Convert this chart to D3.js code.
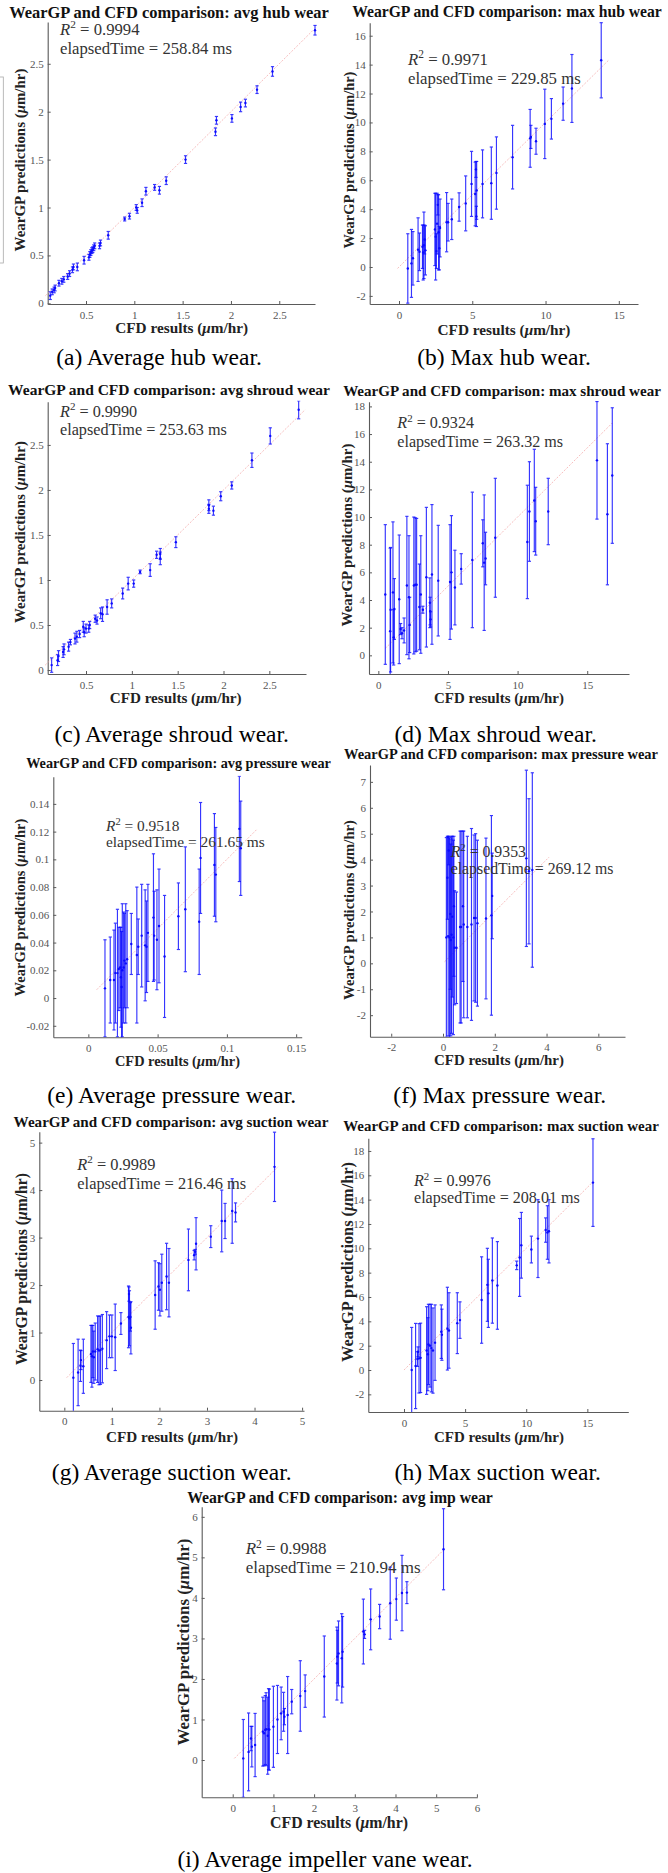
<!DOCTYPE html>
<html><head><meta charset="utf-8">
<script src="https://cdn.jsdelivr.net/npm/d3@7"></script>
<style>body{margin:0;background:#fff}svg{display:block}</style>
</head><body>
<svg id="fig" width="668" height="1873"></svg>
<script>
// ---------- DATA: [CFD result, WearGP prediction, error half-width] ----------
const avgHub = [[0.13,0.08,0.04],[0.15,0.12,0.03],[0.17,0.14,0.03],[0.18,0.16,0.03],[0.22,0.21,0.03],[0.25,0.23,0.03],[0.27,0.25,0.03],[0.31,0.28,0.03],[0.33,0.31,0.03],[0.36,0.35,0.03],[0.37,0.38,0.03],[0.41,0.38,0.04],[0.48,0.45,0.04],[0.53,0.48,0.03],[0.54,0.51,0.03],[0.55,0.53,0.03],[0.56,0.55,0.03],[0.57,0.56,0.03],[0.58,0.58,0.03],[0.59,0.6,0.03],[0.64,0.6,0.03],[0.65,0.63,0.03],[0.73,0.71,0.04],[0.9,0.88,0.02],[0.95,0.91,0.03],[1.02,1.0,0.03],[1.03,0.97,0.03],[1.08,1.05,0.04],[1.12,1.17,0.04],[1.21,1.21,0.03],[1.26,1.18,0.04],[1.33,1.28,0.04],[1.53,1.5,0.04],[1.84,1.79,0.04],[1.85,1.91,0.04],[2.01,1.93,0.04],[2.1,2.05,0.05],[2.15,2.09,0.04],[2.27,2.23,0.04],[2.43,2.42,0.05],[2.87,2.85,0.05]];
const maxHub = [[0.6,-0.1,2.4],[0.85,0.25,2.35],[0.95,0.6,1.85],[1.3,1.2,2.2],[1.4,1.05,1.3],[1.6,1.4,1.5],[1.65,1.0,1.9],[1.7,1.5,2.3],[1.8,1.15,1.7],[1.75,1.9,1.0],[2.45,2.6,2.5],[2.5,2.1,3.0],[2.55,1.1,1.2],[2.6,3.0,2.1],[2.65,4.3,0.7],[2.7,2.4,2.6],[2.75,1.3,1.5],[2.8,2.7,2.0],[3.25,3.1,2.05],[3.35,3.1,1.3],[3.6,3.3,1.4],[4.1,4.15,0.98],[4.55,4.4,1.9],[4.95,5.75,2.25],[5.2,5.05,2.2],[5.3,5.3,2.0],[5.25,6.75,0.55],[5.28,3.5,0.7],[5.7,5.75,2.35],[6.3,5.8,2.5],[6.65,6.5,2.5],[7.75,7.6,2.2],[8.95,8.9,2.0],[9.0,9.0,0.8],[9.35,8.7,0.9],[9.95,9.9,2.4],[10.4,10.25,1.4],[11.2,11.3,1.15],[11.8,12.35,2.35],[13.8,14.3,2.6]];
const avgShroud = [[0.125,0.055,0.08],[0.19,0.11,0.06],[0.2,0.155,0.06],[0.25,0.2,0.06],[0.26,0.23,0.06],[0.31,0.26,0.05],[0.33,0.31,0.03],[0.38,0.35,0.06],[0.4,0.37,0.06],[0.43,0.4,0.04],[0.47,0.48,0.06],[0.48,0.42,0.05],[0.5,0.46,0.05],[0.53,0.46,0.04],[0.54,0.5,0.04],[0.6,0.57,0.04],[0.62,0.55,0.04],[0.66,0.63,0.06],[0.68,0.62,0.08],[0.73,0.7,0.08],[0.78,0.74,0.05],[0.9,0.85,0.06],[0.96,0.96,0.07],[1.02,0.96,0.04],[1.09,1.09,0.02],[1.2,1.11,0.07],[1.27,1.28,0.04],[1.31,1.29,0.06],[1.31,1.24,0.07],[1.48,1.42,0.06],[1.84,1.83,0.06],[1.84,1.79,0.05],[1.89,1.77,0.05],[1.97,1.93,0.05],[2.09,2.05,0.04],[2.31,2.33,0.08],[2.51,2.6,0.09],[2.82,2.89,0.1]];
const maxShroud = [[0.5,4.4,5.05],[0.85,1.75,6.0],[0.88,3.3,4.5],[1.05,4.55,5.1],[1.1,1.3,2.0],[1.15,3.35,2.2],[1.5,4.05,4.65],[1.6,1.9,0.4],[1.7,1.6,0.4],[1.85,1.8,0.9],[2.05,5.05,5.0],[2.2,4.2,4.45],[2.25,2.2,2.0],[2.55,5.05,4.95],[2.65,5.1,4.85],[2.75,5.1,4.8],[2.95,3.5,3.1],[3.05,4.4,4.25],[3.2,3.3,0.25],[3.45,5.65,5.05],[3.7,3.8,1.8],[3.75,2.6,0.55],[3.72,3.2,1.0],[3.85,5.85,5.05],[4.3,5.4,4.0],[5.15,5.3,4.15],[5.25,6.0,4.1],[5.5,4.9,2.7],[5.95,6.25,1.1],[6.75,6.9,4.9],[7.5,8.1,1.7],[7.6,6.7,4.9],[7.7,7.0,1.9],[8.4,8.5,4.3],[10.7,8.2,4.1],[10.85,10.4,3.6],[11.2,11.2,3.7],[11.3,9.7,2.45],[12.2,10.4,2.4],[15.7,14.1,4.25],[16.45,10.2,5.1],[16.8,13.0,4.9]];
const avgPressure = [[0.012,0.007,0.035],[0.0158,0.013,0.031],[0.0185,0.013,0.036],[0.0195,0.018,0.036],[0.021,0.018,0.046],[0.022,0.021,0.03],[0.023,0.022,0.029],[0.0235,0.015,0.036],[0.024,0.008,0.04],[0.0245,0.02,0.048],[0.0255,0.022,0.04],[0.026,0.027,0.034],[0.027,0.025,0.043],[0.028,0.028,0.035],[0.031,0.039,0.022],[0.035,0.031,0.049],[0.036,0.037,0.02],[0.0385,0.045,0.037],[0.041,0.038,0.04],[0.042,0.037,0.033],[0.043,0.047,0.035],[0.047,0.058,0.046],[0.0475,0.045,0.032],[0.0495,0.042,0.036],[0.051,0.052,0.041],[0.055,0.03,0.044],[0.065,0.059,0.024],[0.07,0.064,0.045],[0.08,0.055,0.038],[0.081,0.101,0.04],[0.091,0.096,0.037],[0.092,0.089,0.034],[0.109,0.122,0.038],[0.11,0.108,0.034]];
const maxPressure = [[0.13,1.0,3.85],[0.17,3.3,1.6],[0.2,1.05,3.85],[0.22,4.35,0.55],[0.25,1.0,3.85],[0.28,1.9,2.9],[0.3,0.9,3.7],[0.33,1.1,3.8],[0.36,1.8,3.1],[0.4,1.0,3.75],[0.42,2.2,2.7],[0.45,0.6,2.2],[0.52,0.6,2.15],[0.66,1.4,3.7],[0.7,1.4,3.7],[0.77,2.2,2.9],[0.8,1.5,3.6],[0.94,1.4,3.5],[1.1,1.5,3.7],[1.2,1.75,3.2],[1.26,1.75,3.25],[1.33,1.55,3.2],[1.66,1.73,3.1],[1.87,1.85,3.85],[1.9,2.6,1.65],[3.22,4.05,3.4],[3.32,3.55,2.8],[3.45,3.6,3.75]];
const avgSuction = [[0.19,0.05,0.72],[0.29,0.16,0.7],[0.34,0.3,0.33],[0.35,0.42,0.2],[0.4,0.29,0.57],[0.56,0.55,0.6],[0.58,0.5,0.65],[0.6,0.6,0.55],[0.62,0.48,0.55],[0.65,0.6,0.6],[0.7,0.65,0.7],[0.73,0.62,0.72],[0.76,0.63,0.72],[0.8,0.66,0.72],[0.89,0.84,0.6],[0.95,0.92,0.45],[1.0,0.92,0.45],[1.07,0.9,0.7],[1.19,1.19,0.23],[1.35,1.33,0.65],[1.36,1.81,0.15],[1.37,1.3,0.58],[1.39,1.33,0.3],[1.4,1.1,0.55],[1.91,1.79,0.72],[1.98,1.97,0.5],[2.01,1.9,0.55],[2.05,2.05,0.6],[2.15,2.18,0.7],[2.2,2.05,0.72],[2.61,2.53,0.65],[2.73,2.63,0.1],[2.75,2.7,0.05],[2.77,2.87,0.55],[3.08,3.02,0.23],[3.31,3.35,0.65],[3.38,3.35,0.37],[3.53,3.56,0.68],[3.6,3.53,0.2],[4.42,4.49,0.73]];
const maxSuction = [[0.63,0.0,3.5],[0.95,0.33,3.5],[1.1,0.9,0.6],[1.15,1.5,0.4],[1.23,0.96,2.85],[1.36,1.0,2.85],[1.85,1.6,3.6],[1.95,1.3,3.0],[2.0,2.1,3.3],[2.13,2.0,3.4],[2.24,1.8,3.6],[2.37,1.6,3.5],[2.54,2.25,3.1],[3.05,3.15,2.2],[3.1,2.9,2.1],[3.55,3.4,3.4],[3.68,3.25,3.1],[4.36,3.85,2.5],[4.58,4.1,1.5],[6.35,5.75,3.55],[6.82,7.0,3.0],[6.9,6.3,2.8],[7.23,7.35,3.5],[7.64,6.95,3.6],[9.22,8.6,0.35],[9.46,9.25,3.2],[9.6,10.25,2.7],[10.42,9.9,1.1],[10.96,10.8,3.2],[11.59,11.5,1.0],[11.73,11.3,2.2],[11.86,11.4,2.6],[15.46,15.4,3.6]];
const avgImp = [[0.26,0.04,0.96],[0.39,0.2,0.96],[0.45,0.53,0.3],[0.47,0.33,0.5],[0.55,0.37,0.78],[0.74,0.7,0.85],[0.77,0.66,0.8],[0.8,0.74,0.85],[0.82,0.76,0.9],[0.86,0.6,0.95],[0.88,0.76,1.0],[0.9,0.75,1.0],[1.0,0.82,1.0],[1.1,1.0,0.84],[1.19,1.15,0.65],[1.25,1.19,0.48],[1.27,1.07,0.2],[1.35,1.11,0.95],[1.45,1.44,0.3],[1.66,1.58,0.87],[1.78,1.7,0.4],[2.25,2.06,1.0],[2.56,2.38,0.9],[2.57,2.55,0.65],[2.6,2.63,0.8],[2.68,2.51,1.1],[2.7,2.67,0.87],[3.21,3.17,0.8],[3.24,3.1,0.1],[3.39,3.47,0.75],[3.61,3.54,0.3],[3.87,3.87,0.89],[4.02,3.97,0.52],[4.16,4.12,0.93],[4.28,4.13,0.27],[5.18,5.2,1.0]];

// y = x reference line extents
const fitRanges = [[0.08,2.85],[-0.1,14.3],[0.055,2.89],[0.5,16.8],[0.006,0.122],[0.06,4.1],[0.05,4.49],[0,15.46],[0.04,5.2]];

// tick values
const xTicks = [[0.5,1,1.5,2,2.5],[0,5,10,15],[0.5,1,1.5,2,2.5],[0,5,10,15],[0,0.05,0.1,0.15],[-2,0,2,4,6],[0,1,2,3,4,5],[0,5,10,15],[0,1,2,3,4,5,6]];
const yTicks = [[0,0.5,1,1.5,2,2.5],[-2,0,2,4,6,8,10,12,14,16],[0,0.5,1,1.5,2,2.5],[0,2,4,6,8,10,12,14,16,18],[-0.02,0,0.02,0.04,0.06,0.08,0.1,0.12,0.14],[-2,-1,0,1,2,3,4,5,6,7],[0,1,2,3,4,5],[-2,0,2,4,6,8,10,12,14,16,18],[0,1,2,3,4,5,6]];

// text
const titleNames = ["avg hub wear","max hub wear","avg shroud wear","max shroud wear","avg pressure wear","max pressure wear","avg suction wear","max suction wear","avg imp wear"];
const r2Values = ["0.9994","0.9971","0.9990","0.9324","0.9518","0.9353","0.9989","0.9976","0.9988"];
const elapsedValues = ["258.84","229.85","253.63","263.32","261.65","269.12","216.46","208.01","210.94"];
const captions = ["(a) Average hub wear.","(b) Max hub wear.","(c) Average shroud wear.","(d) Max shroud wear.","(e) Average pressure wear.","(f) Max pressure wear.","(g) Average suction wear.","(h) Max suction wear.","(i) Average impeller vane wear."];

const series = [avgHub,maxHub,avgShroud,maxShroud,avgPressure,maxPressure,avgSuction,maxSuction,avgImp];

// ---------- LAYOUT (pixel positions) ----------
const layout = [
 {l:47.7,r:315,t:22,b:304,xd:[0.1035,2.87],yd:[-0.007,2.936],ti:[169,18,320],an:[60,35,54,172],yl:[20,160,183],xl:[181.7,333,133],cp:[159,365]},
 {l:369.7,r:638,t:22.7,b:304,xd:[-2.0,16.31],yd:[-2.56,16.9],ti:[507,17,310],an:[408,65,83.5,173],yl:[349,160,177],xl:[504,335,133],cp:[504,365]},
 {l:47.7,r:306,t:401.7,b:674,xd:[0.082,2.9],yd:[-0.044,2.98],ti:[169,395,322],an:[60,416.7,435,167],yl:[20,532,182],xl:[175.7,703,132],cp:[171.7,742]},
 {l:369,r:629,t:401.7,b:674,xd:[-0.67,18.0],yd:[-1.35,18.34],ti:[502,396,318],an:[397.3,428.3,446.7,166],yl:[346.7,535,183],xl:[499,703.3,130],cp:[495.7,742]},
 {l:53.3,r:301.7,t:776.7,b:1037.3,xd:[-0.0253,0.154],yd:[-0.0283,0.1596],ti:[178.5,768,305],an:[106,831,847.3,159],yl:[20,907.5,178],xl:[177.5,1066,125],cp:[171.7,1103.3]},
 {l:370,r:625,t:765,b:1036.7,xd:[-2.82,7.03],yd:[-2.83,7.65],ti:[501,759,314],an:[450.7,857.3,874.3,163],yl:[349,910,180],xl:[499,1065,130],cp:[499.7,1103]},
 {l:39.3,r:304,t:1131.7,b:1410.7,xd:[-0.526,5.04],yd:[-0.646,5.23],ti:[171,1127,315],an:[77.3,1170,1189.3,169],yl:[21.7,1269,192],xl:[172,1441.7,132],cp:[171.7,1480]},
 {l:368.3,r:628.3,t:1138.3,b:1412,xd:[-2.92,18.35],yd:[-3.45,19.04],ti:[501,1130.7,316],an:[414,1186,1203.3,166],yl:[347.3,1262,200],xl:[499,1441.7,130],cp:[497.7,1480]},
 {l:201.7,r:477.3,t:1506.7,b:1797.3,xd:[-0.762,6.01],yd:[-0.92,6.25],ti:[340,1503,306],an:[245.7,1554.3,1572.7,175],yl:[183.3,1642,207],xl:[339,1827.7,138],cp:[325,1866.7]}
];

const FONT = '"Liberation Serif","Times New Roman",Times,serif';
const AX = '#5a5a5a', BLUE = '#0a0aff';
const svg = d3.select('#fig');
const defs = svg.append('defs');

function fitWidth(t, w){
  const len = t.node().getComputedTextLength();
  const fs = parseFloat(t.attr('font-size'));
  const nf = fs * w / len;
  t.attr('font-size', nf);
  return nf;
}

// faint box artifact at the left edge of panel (a)
svg.append('rect').attr('x',-1).attr('y',77).attr('width',4.3).attr('height',186)
  .attr('fill','none').attr('stroke','#a8a8a8').attr('stroke-width',0.8);

series.forEach((data, i) => {
  const L = layout[i];
  const x = d3.scaleLinear().domain(L.xd).range([L.l, L.r]);
  const y = d3.scaleLinear().domain(L.yd).range([L.b, L.t]);
  const g = svg.append('g');

  const cid = 'clip' + i;
  defs.append('clipPath').attr('id', cid).append('rect')
    .attr('x', L.l - 4).attr('y', L.t - 1).attr('width', L.r - L.l + 8).attr('height', L.b - L.t + 1);

  // axes
  const ya = d3.axisLeft(y).tickValues(yTicks[i]).tickSizeInner(-3).tickSizeOuter(0).tickPadding(4).tickFormat(d => String(d));
  const xa = d3.axisBottom(x).tickValues(xTicks[i]).tickSizeInner(-3).tickSizeOuter(0).tickPadding(7).tickFormat(d => String(d));
  const gy = g.append('g').attr('transform', `translate(${L.l},0)`).call(ya);
  const gx = g.append('g').attr('transform', `translate(0,${L.b})`).call(xa);
  [gx, gy].forEach(a => {
    a.attr('font-family', FONT).attr('font-size', 11);
    a.select('.domain').attr('stroke', AX).attr('stroke-width', 1.1);
    a.selectAll('.tick line').attr('stroke', AX);
    a.selectAll('.tick text').attr('fill', '#555');
  });

  const pg = g.append('g').attr('clip-path', `url(#${cid})`);
  // reference line y = x
  const fr = fitRanges[i];
  pg.append('line').attr('x1', x(fr[0])).attr('y1', y(fr[0])).attr('x2', x(fr[1])).attr('y2', y(fr[1]))
    .attr('stroke', '#f29a9a').attr('stroke-width', 0.8).attr('stroke-dasharray', '2,1.5').attr('opacity', 0.8);

  // error bars
  const eb = pg.selectAll('g.eb').data(data).enter().append('g')
    .attr('stroke', BLUE).attr('stroke-width', 1.15).attr('opacity', 0.82);
  eb.append('line').attr('x1', d => x(d[0])).attr('x2', d => x(d[0]))
    .attr('y1', d => y(d[1] - d[2])).attr('y2', d => y(d[1] + d[2]));
  eb.append('line').attr('x1', d => x(d[0]) - 1.6).attr('x2', d => x(d[0]) + 1.6)
    .attr('y1', d => y(d[1] + d[2])).attr('y2', d => y(d[1] + d[2]));
  eb.append('line').attr('x1', d => x(d[0]) - 1.6).attr('x2', d => x(d[0]) + 1.6)
    .attr('y1', d => y(d[1] - d[2])).attr('y2', d => y(d[1] - d[2]));
  pg.selectAll('circle').data(data).enter().append('circle')
    .attr('cx', d => x(d[0])).attr('cy', d => y(d[1])).attr('r', 1.2).attr('fill', BLUE);

  // title
  const ti = g.append('text').attr('x', L.ti[0]).attr('y', L.ti[1]).attr('text-anchor', 'middle')
    .attr('font-family', FONT).attr('font-weight', 'bold').attr('font-size', 15).attr('fill', '#111')
    .text('WearGP and CFD comparison: ' + titleNames[i]);
  fitWidth(ti, L.ti[2]);

  // annotation
  const e2 = g.append('text').attr('x', L.an[0]).attr('y', L.an[2]).attr('font-family', FONT)
    .attr('font-size', 16).attr('fill', '#333').text('elapsedTime = ' + elapsedValues[i] + ' ms');
  const af = fitWidth(e2, L.an[3]);
  const r2 = g.append('text').attr('x', L.an[0]).attr('y', L.an[1]).attr('font-family', FONT)
    .attr('font-size', af).attr('fill', '#333');
  r2.append('tspan').attr('font-style', 'italic').text('R');
  r2.append('tspan').attr('font-size', af * 0.68).attr('dy', -af * 0.4).text('2');
  r2.append('tspan').attr('dy', af * 0.4).text(' = ' + r2Values[i]);

  // y label
  const yl = g.append('text').attr('transform', `translate(${L.yl[0]},${L.yl[1]}) rotate(-90)`)
    .attr('text-anchor', 'middle').attr('dy', '0.35em').attr('font-family', FONT).attr('font-weight', 'bold')
    .attr('font-size', 15).attr('fill', '#222');
  yl.append('tspan').text('WearGP predictions (');
  yl.append('tspan').attr('font-style', 'italic').text('\u03bc');
  yl.append('tspan').text('m/hr)');
  fitWidth(yl, L.yl[2]);

  // x label
  const xl = g.append('text').attr('x', L.xl[0]).attr('y', L.xl[1]).attr('text-anchor', 'middle')
    .attr('font-family', FONT).attr('font-weight', 'bold').attr('font-size', 15).attr('fill', '#222');
  xl.append('tspan').text('CFD results (');
  xl.append('tspan').attr('font-style', 'italic').text('\u03bc');
  xl.append('tspan').text('m/hr)');
  fitWidth(xl, L.xl[2]);

  // caption
  svg.append('text').attr('x', L.cp[0]).attr('y', L.cp[1]).attr('text-anchor', 'middle')
    .attr('font-family', FONT).attr('font-size', 23.5).attr('fill', '#000').text(captions[i]);
});
</script>
</body></html>
